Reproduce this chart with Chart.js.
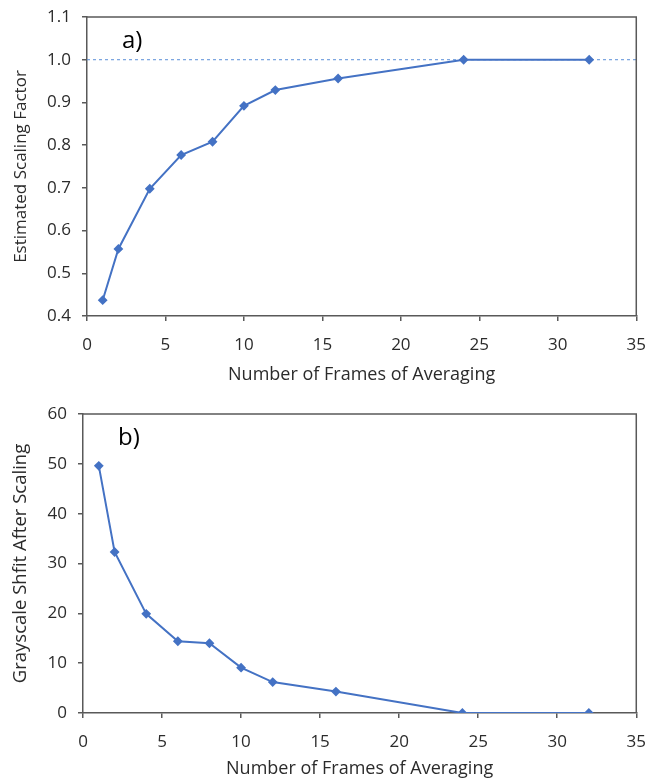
<!DOCTYPE html>
<html lang="en">
<head>
<meta charset="UTF-8">
<title>Scaling factor and grayscale shift</title>
<script src="https://cdn.jsdelivr.net/npm/chart.js"></script>
<style>
  body { margin: 0; background: #fff; }
  .box { position: absolute; left: 0; width: 660px; }
</style>
</head>
<body>
<div class="box" style="top:0; height:390px;"><canvas id="chartA"></canvas></div>
<div class="box" style="top:390px; height:389px;"><canvas id="chartB"></canvas></div>
<script>
// datos
const frames = [1, 2, 4, 6, 8, 10, 12, 16, 24, 32];
const scaling = [0.437, 0.557, 0.698, 0.777, 0.808, 0.892, 0.929, 0.956, 1.0, 1.0];
const shift = [49.6, 32.3, 19.9, 14.4, 14.0, 9.1, 6.2, 4.3, 0, 0];
const xTicks = [0, 5, 10, 15, 20, 25, 30, 35];
const refLine = 1.0;

const azul = '#4472C4';
const gris = '#595959';
const texto = '#2b2b2b';
const fuente = '"Open Sans", sans-serif';

function puntos(ys) {
  return frames.map((f, i) => ({ x: f, y: ys[i] }));
}

// marco completo + etiqueta a)/b)
function marco(etiqueta) {
  return {
    id: 'marco',
    afterDraw(chart) {
      const { ctx, chartArea: a } = chart;
      ctx.save();
      ctx.strokeStyle = gris;
      ctx.lineWidth = 1.5;
      ctx.beginPath();
      ctx.moveTo(a.left, a.top);
      ctx.lineTo(a.right, a.top);
      ctx.lineTo(a.right, a.bottom);
      ctx.stroke();
      ctx.fillStyle = '#000';
      ctx.font = '24px ' + fuente;
      ctx.textBaseline = 'middle';
      ctx.fillText(etiqueta, a.left + 35, a.top + 24);
      ctx.restore();
    }
  };
}

function ejes(cfg) {
  return {
    x: {
      type: 'linear', min: 0, max: 35,
      afterBuildTicks: s => { s.ticks = xTicks.map(v => ({ value: v })); },
      afterFit: s => { s.height = cfg.xh; },
      grid: { drawOnChartArea: false, drawTicks: true, tickLength: 5, color: gris, lineWidth: 1.5 },
      border: { color: gris, width: 1.5 },
      ticks: { color: texto, font: { family: fuente, size: 17 }, padding: 14, maxRotation: 0 },
      title: { display: true, text: 'Number of Frames of Averaging', color: texto,
               font: { family: fuente, size: 18 }, padding: { top: 4, bottom: cfg.xtb } }
    },
    y: {
      min: cfg.ymin, max: cfg.ymax,
      afterFit: s => { s.width = cfg.yw; s.paddingTop = 0; s.paddingBottom = 0; },
      grid: { drawOnChartArea: false, drawTicks: true, tickLength: 5, color: gris, lineWidth: 1.5 },
      border: { color: gris, width: 1.5 },
      ticks: { stepSize: cfg.step, color: texto, font: { family: fuente, size: 17 }, padding: 11,
               callback: cfg.fmt },
      title: { display: true, text: cfg.ytitle, color: texto,
               font: { family: fuente, size: cfg.yts }, padding: { top: cfg.ytp, bottom: 0 } }
    }
  };
}

const serie = ys => ({
  data: puntos(ys),
  borderColor: azul,
  backgroundColor: azul,
  borderWidth: 2,
  pointStyle: 'rectRot',
  pointRadius: 3.5,
  pointHoverRadius: 3.5
});

new Chart(document.getElementById('chartA'), {
  type: 'line',
  data: {
    datasets: [
      serie(scaling),
      {
        data: [{ x: 0, y: refLine }, { x: 35, y: refLine }],
        borderColor: '#5b8fd8',
        borderWidth: 1,
        borderDash: [3, 3],
        pointRadius: 0
      }
    ]
  },
  options: {
    responsive: true, maintainAspectRatio: false, animation: false,
    layout: { padding: { top: 17, right: 23, left: 0, bottom: 0 } },
    plugins: { legend: { display: false }, tooltip: { enabled: false } },
    scales: ejes({ xh: 74, yw: 87, xtb: 4, ymin: 0.4, ymax: 1.1, step: 0.1, yts: 17,
                   fmt: v => v.toFixed(1), ytitle: 'Estimated Scaling Factor', ytp: 11 })
  },
  plugins: [marco('a)')]
});

new Chart(document.getElementById('chartB'), {
  type: 'line',
  data: { datasets: [serie(shift)] },
  options: {
    responsive: true, maintainAspectRatio: false, animation: false,
    layout: { padding: { top: 24, right: 23, left: 0, bottom: 0 } },
    plugins: { legend: { display: false }, tooltip: { enabled: false } },
    scales: ejes({ xh: 66, yw: 83, xtb: -1, ymin: 0, ymax: 60, step: 10, yts: 18.5,
                   fmt: v => v, ytitle: 'Grayscale Shfit After Scaling', ytp: 10 })
  },
  plugins: [marco('b)')]
});
</script>
</body>
</html>
